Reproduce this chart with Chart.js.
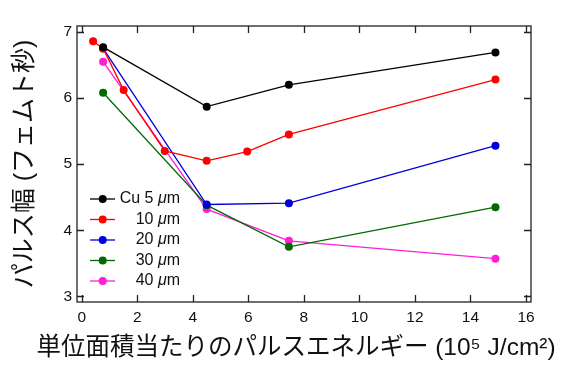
<!DOCTYPE html>
<html>
<head>
<meta charset="utf-8">
<script src="https://cdn.jsdelivr.net/npm/chart.js@4"></script>
<style>
  html, body { margin: 0; padding: 0; background: #fff; }
  #wrap { width: 570px; height: 372px; position: relative; }
</style>
</head>
<body>
<div id="wrap"><canvas id="c"></canvas></div>
<script>
// データ
const seriesLabels = ['Cu 5 μm', '10 μm', '20 μm', '30 μm', '40 μm'];
const seriesColors = ['#000000', '#ff0000', '#0000dd', '#006a00', '#ff1ed6'];
const xCu5  = [0.77, 4.5, 7.46, 14.9];
const yCu5  = [6.77, 5.87, 6.20, 6.69];
const x10   = [0.41, 0.77, 1.51, 2.99, 4.5, 5.96, 7.46, 14.9];
const y10   = [6.86, 6.75, 6.12, 5.20, 5.05, 5.19, 5.45, 6.28];
const x20   = [0.77, 4.5, 7.46, 14.9];
const y20   = [6.75, 4.39, 4.41, 5.28];
const x30   = [0.77, 4.5, 7.46, 14.9];
const y30   = [6.08, 4.38, 3.75, 4.35];
const x40   = [0.77, 4.5, 7.46, 14.9];
const y40   = [6.55, 4.32, 3.84, 3.57];
const xTicks = [0, 2, 4, 6, 8, 10, 12, 14, 16];
const yTicks = [3, 4, 5, 6, 7];
const xTitle = '単位面積当たりのパルスエネルギー (10⁵ J/cm²)';
const yTitle = 'パルス幅 (フェムト秒)';

const xs = [xCu5, x10, x20, x30, x40];
const ys = [yCu5, y10, y20, y30, y40];
const LATIN = '"Liberation Sans", Arial, Helvetica, sans-serif';
const JP = '"Liberation Sans", "Noto Sans CJK JP", sans-serif';

const datasets = seriesLabels.map((lab, i) => ({
  label: lab,
  data: xs[i].map((x, j) => ({ x: x, y: ys[i][j] })),
  borderColor: seriesColors[i],
  backgroundColor: seriesColors[i],
  borderWidth: 1.3,
  pointRadius: 4,
  pointBorderWidth: 0,
  pointHoverRadius: 4,
  fill: false,
  tension: 0
}));

// 枠と内向きの目盛り、x軸タイトル
const framePlugin = {
  id: 'frame',
  afterDraw(chart) {
    const { ctx, chartArea: a, scales } = chart;
    ctx.save();
    ctx.strokeStyle = '#222';
    ctx.lineWidth = 1.3;
    ctx.strokeRect(a.left, a.top, a.right - a.left, a.bottom - a.top);
    const L = 7;
    ctx.beginPath();
    xTicks.forEach(v => {
      const px = Math.round(scales.x.getPixelForValue(v)) + 0.5;
      ctx.moveTo(px, a.bottom); ctx.lineTo(px, a.bottom - L);
      ctx.moveTo(px, a.top); ctx.lineTo(px, a.top + L);
    });
    yTicks.forEach(v => {
      const py = Math.round(scales.y.getPixelForValue(v)) + 0.5;
      ctx.moveTo(a.left, py); ctx.lineTo(a.left + L, py);
      ctx.moveTo(a.right, py); ctx.lineTo(a.right - L, py);
    });
    ctx.stroke();
    // x軸タイトル（幅制限なしで描く）
    ctx.fillStyle = '#111';
    ctx.font = '24.5px ' + JP;
    ctx.textAlign = 'center';
    ctx.textBaseline = 'middle';
    ctx.fillText(xTitle, 296, 348);
    ctx.restore();
  }
};

// 凡例（グラフ内）
const legendPlugin = {
  id: 'innerLegend',
  afterDraw(chart) {
    const { ctx } = chart;
    ctx.save();
    const rightX = 180, y0 = 199, step = 20.5;
    chart.data.datasets.forEach((ds, i) => {
      const y = y0 + i * step;
      ctx.strokeStyle = ds.borderColor;
      ctx.fillStyle = ds.borderColor;
      ctx.lineWidth = 1.3;
      ctx.beginPath(); ctx.moveTo(90, y); ctx.lineTo(115, y); ctx.stroke();
      ctx.beginPath(); ctx.arc(102.7, y, 4, 0, Math.PI * 2); ctx.fill();
      // μ は斜体
      const parts = ds.label.split('μ');
      const fN = '16px ' + LATIN, fI = 'italic 16px ' + LATIN;
      ctx.font = fN; const w0 = ctx.measureText(parts[0]).width; const w2 = ctx.measureText(parts[1]).width;
      ctx.font = fI; const w1 = ctx.measureText('μ').width;
      let x = rightX - (w0 + w1 + w2);
      ctx.fillStyle = '#111';
      ctx.textBaseline = 'middle';
      ctx.font = fN; ctx.fillText(parts[0], x, y); x += w0;
      ctx.font = fI; ctx.fillText('μ', x, y); x += w1;
      ctx.font = fN; ctx.fillText(parts[1], x, y);
    });
    ctx.restore();
  }
};

new Chart(document.getElementById('c'), {
  type: 'line',
  data: { datasets },
  options: {
    responsive: true,
    maintainAspectRatio: false,
    animation: false,
    events: [],
    layout: { padding: { top: 26, right: 39, left: 0, bottom: 0 } },
    plugins: { legend: { display: false }, tooltip: { enabled: false } },
    scales: {
      x: {
        type: 'linear',
        min: -0.17, max: 16.18,
        afterBuildTicks: s => { s.ticks = xTicks.map(v => ({ value: v })); },
        afterFit: s => { s.height = 70; },
        grid: { display: false, drawTicks: false },
        border: { display: false },
        ticks: { padding: 6, color: '#111', font: { family: LATIN, size: 15.5 }, maxRotation: 0, autoSkip: false },
        title: { display: false }
      },
      y: {
        min: 2.915, max: 7.09,
        afterBuildTicks: s => { s.ticks = yTicks.map(v => ({ value: v })); },
        afterFit: s => { s.width = 77; },
        grid: { display: false, drawTicks: false },
        border: { display: false },
        ticks: { padding: 5, color: '#111', font: { family: LATIN, size: 15.5 } },
        title: { display: true, text: yTitle, color: '#111', font: { family: JP, size: 25 }, padding: { top: 10, bottom: 0 } }
      }
    }
  },
  plugins: [framePlugin, legendPlugin]
});
</script>
</body>
</html>
